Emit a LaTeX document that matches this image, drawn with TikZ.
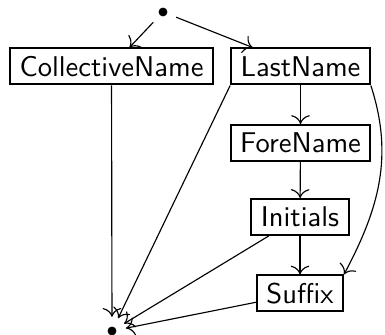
\documentclass[tikz,border=0pt]{standalone}
\usepackage{tikz}
\usetikzlibrary{arrows.meta, positioning, calc}

\begin{document}
\begin{tikzpicture}[
    x=0.35pt, y=-0.35pt,
    field/.style={rectangle, draw=black, line width=0.7pt, font=\sffamily, inner xsep=3.3pt, inner ysep=0pt, minimum height=12.6pt},
    point/.style={circle, fill=black, inner sep=0pt, minimum size=3.1pt, outer sep=3.4pt},
    arrow/.style={-{To[scale=1.25]}, line width=0.4pt}
]
    \useasboundingbox (0,0) rectangle (385,335);

    % Start and end points
    \node[point] (start) at (163,12) {};
    \node[point] (stop) at (112,331) {};

    % Name fields
    \node[field] (coll) at (111.5,66.5) {CollectiveName};
    \node[field] (last) at (300.5,66.5) {LastName};
    \node[field] (fore) at (300.5,143) {ForeName};
    \node[field] (init) at (300,217) {Initials};
    \node[field] (suff) at (300,293.5) {Suffix};

    % Connections from start
    \draw[arrow] (start) -- (coll);
    \draw[arrow] (start) -- (last);

    % Chain of names
    \draw[arrow] (last) -- (fore);
    \draw[arrow] (fore) -- (init);
    \draw[arrow] (init) -- (suff);
    \draw[arrow] (last.south east) to[out=-72, in=62] (suff.north east);

    % Connections to end
    \draw[arrow] (coll) -- (stop);
    \draw[arrow] (last.south west) -- (stop);
    \draw[arrow] (init) -- (stop);
    \draw[arrow] (suff) -- (stop);

\end{tikzpicture}
\end{document}
